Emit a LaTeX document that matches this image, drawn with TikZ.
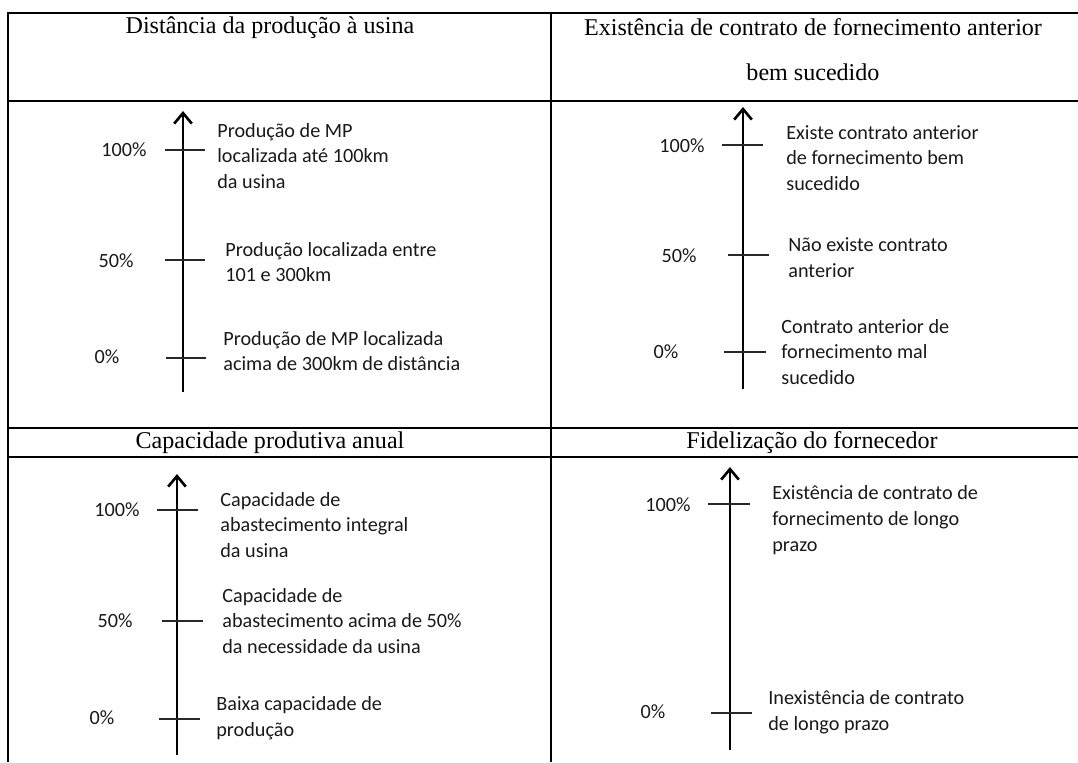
\documentclass[tikz,border=0pt]{standalone}
\usepackage{fontspec}
\setmainfont{Liberation Serif}
\newfontfamily\calibrifont{Carlito}
\usetikzlibrary{arrows.meta}
\definecolor{tickgray}{RGB}{40,40,40}
\definecolor{labeltext}{RGB}{25,25,25}
\tikzset{tableline/.style={line width=1.4pt},
 scaleaxis/.style={-{Straight Barb[length=6pt,width=10pt,line width=1.5pt]},line width=1.5pt},
 scaletick/.style={line width=1pt,tickgray},
 head/.style={font=\fontsize{13.7}{25.5}\selectfont,align=center,inner sep=0pt},
 level/.style={font=\calibrifont\fontsize{11.5}{14.7}\selectfont,labeltext,align=left,anchor=west,inner sep=0pt},
 pct/.style={font=\calibrifont\fontsize{11.5}{12}\selectfont,labeltext,inner sep=0pt}}

\begin{document}
\begin{tikzpicture}[x=0.02cm,y=-0.02cm]
\useasboundingbox (0,0) rectangle (1078,762);
% table
\draw[tableline] (8,762)--(8,13)--(1078,13);
\draw[tableline] (551,13)--(551,762);
\draw[tableline] (8,101)--(1078,101);
\draw[tableline] (8,428)--(1078,428);
\draw[tableline] (8,457)--(1078,457);
\node[head] (hDist) at (270,28) {Distância da produção à usina};
\node[head] (hContr) at (813,50) {Existência de contrato de fornecimento anterior\\bem sucedido};
\node[head] (hCap) at (270,443) {Capacidade produtiva anual};
\node[head] (hFid) at (812,443) {Fidelização do fornecedor};
% distancia
\coordinate (aBot) at (183,392); \coordinate (aTop) at (183,111);
\draw[scaleaxis] (aBot)--(aTop);
\draw[scaletick] (165,150)--(205,150);
\draw[scaletick] (165,260)--(205,260);
\draw[scaletick] (166,358)--(206,358);
\node[pct] (aHundred) at (124,150) {100\%};
\node[pct] (aFifty) at (116,261) {50\%};
\node[pct] (aZero) at (107,357) {0\%};
\node[level] (aHigh) at (217,156) {Produção de MP\\localizada até 100km\\da usina};
\node[level] (aMid) at (225,262) {Produção localizada entre\\101 e 300km};
\node[level] (aLow) at (223,351) {Produção de MP localizada\\acima de 300km de distância};
% contrato anterior
\coordinate (bBot) at (743,389); \coordinate (bTop) at (743,107);
\draw[scaleaxis] (bBot)--(bTop);
\draw[scaletick] (722,145)--(763,145);
\draw[scaletick] (728,255)--(769,255);
\draw[scaletick] (724,352)--(766,352);
\node[pct] (bHundred) at (682,146) {100\%};
\node[pct] (bFifty) at (679,256) {50\%};
\node[pct] (bZero) at (666,352) {0\%};
\node[level] (bHigh) at (786,158) {Existe contrato anterior\\de fornecimento bem\\sucedido};
\node[level] (bMid) at (788,258) {Não existe contrato\\anterior};
\node[level] (bLow) at (781,352) {Contrato anterior de\\fornecimento mal\\sucedido};
% capacidade
\coordinate (cBot) at (177,755); \coordinate (cTop) at (177,474);
\draw[scaleaxis] (cBot)--(cTop);
\draw[scaletick] (157,510)--(198,510);
\draw[scaletick] (162,621)--(203,621);
\draw[scaletick] (159,719)--(200,719);
\node[pct] (cHundred) at (117,510) {100\%};
\node[pct] (cFifty) at (115,621) {50\%};
\node[pct] (cZero) at (102,718) {0\%};
\node[level] (cHigh) at (220,525) {Capacidade de\\abastecimento integral\\da usina};
\node[level] (cMid) at (222,621) {Capacidade de\\abastecimento acima de 50\%\\da necessidade da usina};
\node[level] (cLow) at (216,718) {Baixa capacidade de\\produção};
% fidelizacao
\coordinate (dBot) at (730,750); \coordinate (dTop) at (730,467);
\draw[scaleaxis] (dBot)--(dTop);
\draw[scaletick] (708,504)--(750,504);
\draw[scaletick] (711,713)--(752,713);
\node[pct] (dHundred) at (668,505) {100\%};
\node[pct] (dZero) at (653,712) {0\%};
\node[level] (dHigh) at (772,520) {Existência de contrato de\\fornecimento de longo\\prazo};
\node[level] (dLow) at (768,712) {Inexistência de contrato\\de longo prazo};
\end{tikzpicture}
\end{document}
